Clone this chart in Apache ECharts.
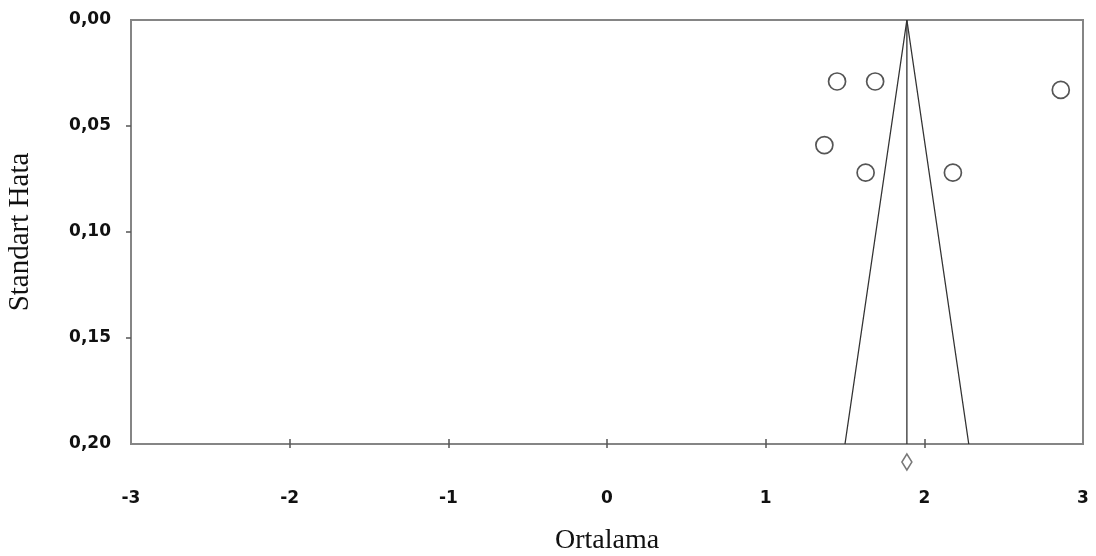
<!DOCTYPE html>
<html>
<head>
<meta charset="utf-8">
<script src="https://cdn.jsdelivr.net/npm/echarts@6/dist/echarts.min.js"></script>
<style>html,body{margin:0;padding:0;background:#fff}#c{width:1096px;height:556px}</style>
</head>
<body>
<div id="c"></div>
<script>
// Study estimates (Ortalama) and standard errors (Standart Hata)
const studyMeans = [1.45, 1.69, 2.86, 1.37, 1.63, 2.18];
const studySE    = [0.029, 0.029, 0.033, 0.059, 0.072, 0.072];
// Pooled estimate and funnel
const pooledMean = [1.89];
const funnelX  = [1.50, 1.89, 2.28];
const funnelSE = [0.20, 0.00, 0.20];
const pooledLineSE = [0.00, 0.20];
const diamondSE = [0.2085];
// Axis ticks
const xTicks = [-3, -2, -1, 0, 1, 2, 3];
const yTicks = [0, 0.05, 0.10, 0.15, 0.20];
const xInnerTicks = [-2, -1, 0, 1, 2];
const yInnerTicks = [0.05, 0.10, 0.15];

const gray = '#858585';
const labelFont = {fontFamily: 'DejaVu Sans', fontWeight: 'bold', fontSize: 17, color: '#111'};

const chart = echarts.init(document.getElementById('c'), null, {renderer: 'canvas'});
chart.setOption({
  animation: false,
  backgroundColor: '#fff',
  grid: {left: 131, right: 13, top: 20, bottom: 112, outerBoundsMode: 'none', containLabel: false,
         show: true, borderColor: gray, borderWidth: 2, backgroundColor: 'transparent'},
  xAxis: [{
    type: 'value', min: xTicks[0], max: xTicks[xTicks.length - 1], interval: 1,
    position: 'bottom',
    name: 'Ortalama', nameLocation: 'middle', nameGap: 83,
    nameTextStyle: {fontFamily: 'Liberation Serif', fontSize: 28, color: '#111'},
    axisLine: {show: true, onZero: false, lineStyle: {color: gray, width: 2}},
    axisTick: {show: true, inside: false, length: 4, customValues: xInnerTicks, lineStyle: {color: '#555', width: 1.5}},
    axisLabel: Object.assign({margin: 46}, labelFont),
    splitLine: {show: false}
  }, {
    type: 'value', min: xTicks[0], max: xTicks[xTicks.length - 1], interval: 1,
    position: 'bottom', offset: 0,
    axisLine: {show: false, onZero: false},
    axisTick: {show: true, inside: true, length: 5, customValues: xInnerTicks, lineStyle: {color: '#555', width: 1.5}},
    axisLabel: {show: false},
    splitLine: {show: false}
  }],
  yAxis: {
    type: 'value', inverse: true, min: yTicks[0], max: yTicks[yTicks.length - 1], interval: 0.05,
    position: 'left',
    name: 'Standart Hata', nameLocation: 'middle', nameGap: 96, nameRotate: 90,
    nameTextStyle: {fontFamily: 'Liberation Serif', fontSize: 29, color: '#111'},
    axisLine: {show: true, onZero: false, lineStyle: {color: gray, width: 2}},
    axisTick: {show: true, inside: false, length: 5, customValues: yInnerTicks, lineStyle: {color: '#555', width: 1.5}},
    axisLabel: Object.assign({margin: 20, formatter: v => v.toFixed(2).replace('.', ',')}, labelFont),
    splitLine: {show: false}
  },
  series: [
    {
      type: 'line', name: 'funnel', xAxisIndex: 0,
      data: funnelX.map((x, i) => [x, funnelSE[i]]),
      symbol: 'none', lineStyle: {color: '#333', width: 1.3}, z: 3
    },
    {
      type: 'line', name: 'pooled', xAxisIndex: 0,
      data: pooledLineSE.map(s => [pooledMean[0], s]),
      symbol: 'none', lineStyle: {color: '#333', width: 1.3}, z: 3
    },
    {
      type: 'scatter', name: 'studies', xAxisIndex: 0,
      data: studyMeans.map((x, i) => [x, studySE[i]]),
      symbol: 'circle', symbolSize: 17,
      itemStyle: {color: '#fff', borderColor: '#555', borderWidth: 1.7, opacity: 1}, z: 4
    },
    {
      type: 'scatter', name: 'diamond', xAxisIndex: 0, clip: false,
      data: diamondSE.map(s => [pooledMean[0], s]),
      symbol: 'diamond', symbolSize: [10, 16],
      itemStyle: {color: '#fff', borderColor: '#555', borderWidth: 1.6}, z: 4
    }
  ]
});
</script>
</body>
</html>
